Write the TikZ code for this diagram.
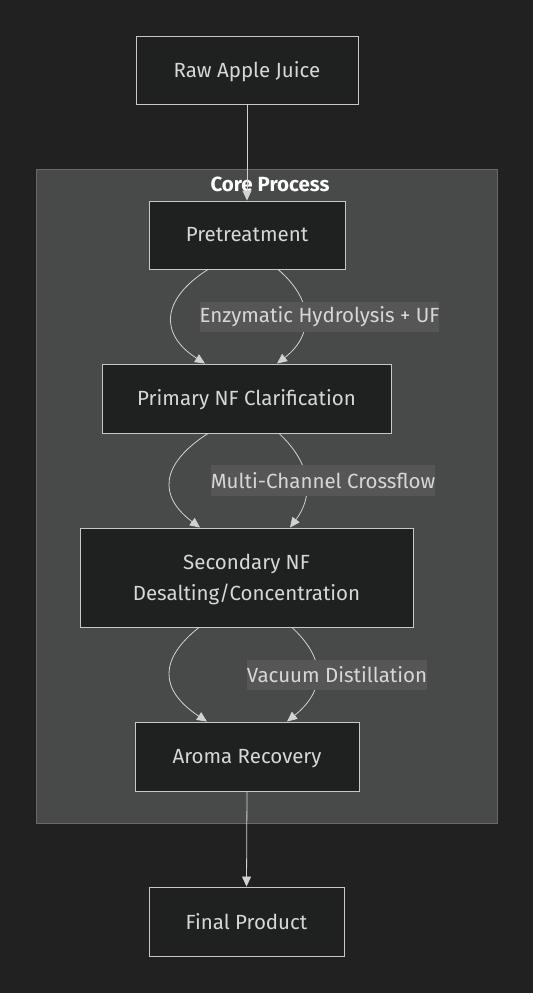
\documentclass[tikz,border=0pt]{standalone}
\usepackage{fontspec}
\setmainfont{Fira Sans}
\usetikzlibrary{arrows.meta,calc}
\definecolor{bgc}{RGB}{33,33,33}
\definecolor{clusterfill}{RGB}{72,73,73}
\definecolor{clusterline}{RGB}{105,105,105}
\definecolor{nodefill}{RGB}{31,32,32}
\definecolor{nodeline}{RGB}{200,200,200}
\definecolor{txt}{RGB}{215,215,215}
\definecolor{lblfill}{RGB}{86,86,86}
\definecolor{edgec}{RGB}{210,210,210}
\begin{document}
\begin{tikzpicture}[x=1pt,y=-1pt,
  box/.style={draw=nodeline,fill=nodefill,line width=0.9pt,text=txt,font=\fontsize{20.5}{31}\selectfont,align=center,inner sep=0pt,text depth=1pt},
  lbl/.style={fill=lblfill,text=txt,font=\fontsize{20.5}{24}\selectfont,inner sep=0pt},
  edge/.style={draw=edgec,line width=0.8pt,-{Triangle[length=10pt,width=9pt]}}]
\fill[bgc] (0,0) rectangle (533,993);
\useasboundingbox (0,0) rectangle (533,993);
% cluster
\node[draw=clusterline,fill=clusterfill,line width=0.8pt,minimum width=461pt,minimum height=654pt,inner sep=0pt] (core) at (266.5,496) {};
\node[text=white,font=\fontsize{20.5}{24}\selectfont\bfseries] (coretitle) at (270,184) {Core Process};
% nodes
\node[box,minimum width=222pt,minimum height=68pt] (raw) at (247,70) {Raw Apple Juice};
\node[box,minimum width=196pt,minimum height=68pt] (pre) at (247,235) {Pretreatment};
\node[box,minimum width=289pt,minimum height=69pt] (pri) at (246.5,398.5) {Primary NF Clarification};
\node[box,minimum width=333pt,minimum height=99pt] (sec) at (246.5,577.5) {Secondary NF\\Desalting/Concentration};
\node[box,minimum width=224pt,minimum height=69pt] (aro) at (247,756.5) {Aroma Recovery};
\node[box,minimum width=195pt,minimum height=69pt] (fin) at (246.5,921.5) {Final Product};
% edges
\draw[edge] (raw.south) -- (pre.north);
\draw[edge] ([xshift=-39pt]pre.south) .. controls (160,300) and (160,335) .. ([xshift=-41.5pt]pri.north);
\draw[edge] ([xshift=31pt]pre.south) .. controls (314,300) and (314,335) .. ([xshift=30.5pt]pri.north);
\draw[edge] ([xshift=-38.5pt]pri.south) .. controls (159,465) and (159,497) .. ([xshift=-46.5pt]sec.north);
\draw[edge] ([xshift=32.5pt]pri.south) .. controls (313,465) and (313,497) .. ([xshift=43.5pt]sec.north);
\draw[edge] ([xshift=-47.5pt]sec.south) .. controls (159,659) and (159,690) .. ([xshift=-40pt]aro.north);
\draw[edge] ([xshift=45.5pt]sec.south) .. controls (326,659) and (326,690) .. ([xshift=40pt]aro.north);
\draw[edge] (aro.south) -- (fin.north);
% edge labels
\node[lbl,minimum width=239pt,minimum height=30pt] (l1) at (319.5,317) {Enzymatic Hydrolysis + UF};
\node[lbl,minimum width=222pt,minimum height=31pt] (l2) at (323,480.5) {Multi-Channel Crossflow};
\node[lbl,minimum width=176pt,minimum height=30pt] (l3) at (337,675) {Vacuum Distillation};
\end{tikzpicture}
\end{document}
